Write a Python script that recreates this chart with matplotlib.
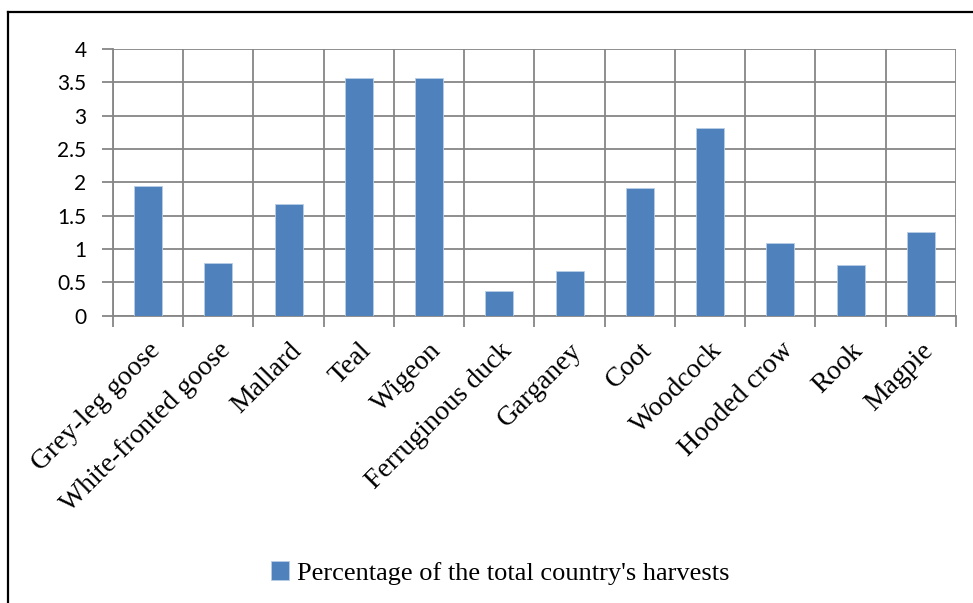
import numpy as np
import matplotlib.pyplot as plt
from matplotlib.lines import Line2D

species = ["Grey-leg goose", "White-fronted goose", "Mallard", "Teal", "Wigeon",
           "Ferruginous duck", "Garganey", "Coot", "Woodcock", "Hooded crow",
           "Rook", "Magpie"]
harvest_pct = [1.95, 0.79, 1.68, 3.57, 3.56, 0.375, 0.665, 1.91, 2.81, 1.09, 0.76, 1.26]
y_ticks = [0, 0.5, 1, 1.5, 2, 2.5, 3, 3.5, 4]
y_tick_labels = ["0", "0.5", "1", "1.5", "2", "2.5", "3", "3.5", "4"]
legend_label = "Percentage of the total country's harvests"

bar_color = "#4F81BD"
grid_color = "#868686"

fig = plt.figure(figsize=(9.73, 6.03), dpi=100)
ax = fig.add_axes([0.1161, 0.4765, 0.8664, 0.4422])

x = np.arange(len(species))
ax.bar(x, harvest_pct, width=0.4, color=bar_color, edgecolor="#B9CDE5",
       linewidth=0.6, zorder=3, label=legend_label)

ax.set_xlim(-0.5, len(species) - 0.5)
ax.set_ylim(0, 4)

# horizontal grid at every y tick
ax.set_yticks(y_ticks)
ax.set_yticklabels(y_tick_labels, fontfamily="Lato", fontsize=15)
ax.yaxis.grid(True, color=grid_color, linewidth=1.3, zorder=1)
ax.tick_params(axis="y", length=8, width=1.3, color=grid_color, pad=11)

# category labels at centres, tick marks and vertical grid at boundaries
ax.set_xticks(x)
ax.set_xticklabels(species, rotation=45, ha="right", va="top",
                   rotation_mode="anchor", fontfamily="Liberation Serif",
                   fontsize=20)
ax.tick_params(axis="x", which="major", length=0, pad=16)
ax.set_xticks(np.arange(len(species) + 1) - 0.5, minor=True)
ax.tick_params(axis="x", which="minor", length=8, width=1.3, color=grid_color)
ax.xaxis.grid(True, which="minor", color=grid_color, linewidth=1.3, zorder=1)

for side in ["top", "right"]:
    ax.spines[side].set_visible(False)
for side in ["left", "bottom"]:
    ax.spines[side].set_color(grid_color)
    ax.spines[side].set_linewidth(1.3)
ax.set_axisbelow(True)

fig.legend(loc="center", bbox_to_anchor=(500 / 973, 1 - 573 / 603),
           frameon=False, prop={"family": "Liberation Serif", "size": 19},
           handlelength=0.7, handleheight=0.7, handletextpad=0.3)

# outer frame: left and top edges only
fig.add_artist(Line2D([7.5 / 973, 7.5 / 973], [0, 1 - 12 / 603],
                      transform=fig.transFigure, color="black", linewidth=1.6))
fig.add_artist(Line2D([7.5 / 973, 1], [1 - 12 / 603, 1 - 12 / 603],
                      transform=fig.transFigure, color="black", linewidth=1.6))

fig.savefig("out.png", dpi=100)
